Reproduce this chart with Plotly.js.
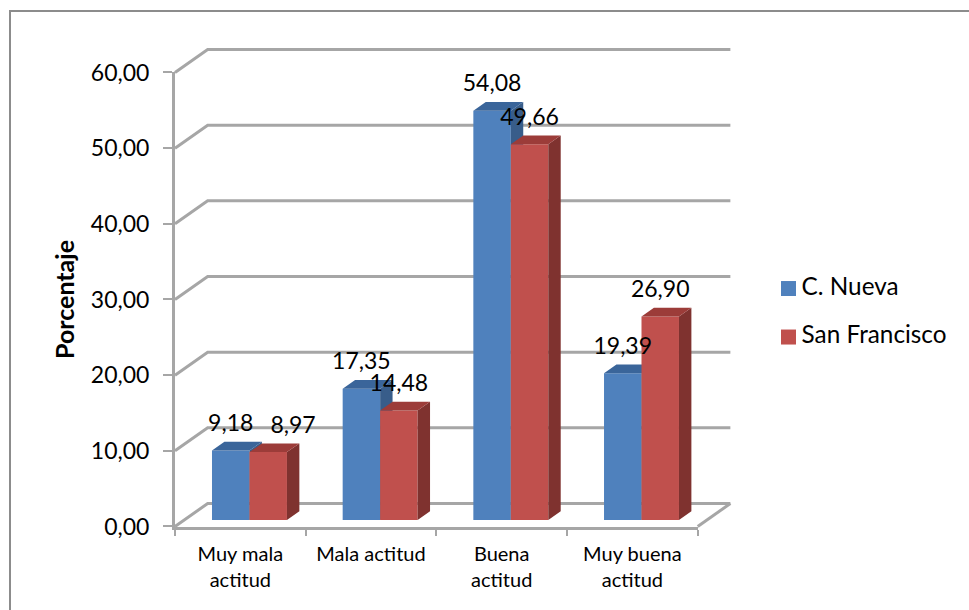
<!DOCTYPE html>
<html>
<head>
<meta charset="utf-8">
<script src="https://cdn.plot.ly/plotly-3.0.1.min.js"></script>
<style>html,body{margin:0;padding:0;background:#fff}#chart{width:969px;height:610px}</style>
</head>
<body>
<div id="chart"></div>
<script>
// Survey results: attitude level by locality, in percent
const categories = ["Muy mala<br>actitud", "Mala actitud", "Buena<br>actitud", "Muy buena<br>actitud"];
const seriesNames = ["C. Nueva", "San Francisco"];
const nuevaValues = [9.18, 17.35, 54.08, 19.39];
const franciscoValues = [8.97, 14.48, 49.66, 26.90];
const yTicks = [0, 10, 20, 30, 40, 50, 60];

// Pseudo-3D geometry, in axis units
const WALL_DX = 0.25, WALL_DY = 3.04;      // depth of the back wall
const BAR_DX = 0.095, BAR_DY = 1.15;       // depth of each column
const BAR_BASE = 0.86;                     // columns stand slightly behind the front edge
const BAR_W = 0.2868;
const BAR_X = [0.4265, 0.7133];            // column centres inside a category

const frontColors = ["#4F81BD", "#C0504D"];
const topColors = ["#3A659A", "#9C3C39"];
const sideColors = ["#385D8A", "#7F322F"];
const GRID = "#A6A6A6";
const FRAME = "#8C8C8C";
const FONT = "Lato, 'Open Sans', sans-serif";

// Frame of the drawing area, in pixels, and the pixel scale of both axes
const W = 969, H = 610;
const M = {l: 165, r: 15, t: 40, b: 75};
const AREA_W = W - M.l - M.r, AREA_H = H - M.t - M.b;
const X0 = 175, X_UNIT = 130.675, Y0 = 526.5, Y_UNIT = 7.5667;
const overX = [(M.l - X0) / X_UNIT, (W - M.r - X0) / X_UNIT];
const overY = [(Y0 - (H - M.b)) / Y_UNIT, (Y0 - M.t) / Y_UNIT];

const idx = categories.map((_, i) => i);

// Back wall, floor and the diagonals joining them to the value axis
const gridX = [], gridY = [];
yTicks.forEach(t => {
  gridX.push(0, WALL_DX, 4 + WALL_DX, null);
  gridY.push(t, t + WALL_DY, t + WALL_DY, null);
});
gridX.push(4, 4 + WALL_DX, null);
gridY.push(0, WALL_DY, null);

function facePolys(values, s, kind) {
  const xs = [], ys = [];
  values.forEach((v, i) => {
    const l = i + BAR_X[s] - BAR_W / 2, r = i + BAR_X[s] + BAR_W / 2, top = BAR_BASE + v;
    if (kind === "side") {
      xs.push(r, r + BAR_DX, r + BAR_DX, r, r, null);
      ys.push(BAR_BASE, BAR_BASE + BAR_DY, top + BAR_DY, top, BAR_BASE, null);
    } else {
      xs.push(l, r, r + BAR_DX, l + BAR_DX, l, null);
      ys.push(top, top, top + BAR_DY, top + BAR_DY, top, null);
    }
  });
  return {xs, ys};
}

function seriesTraces(values, s, xa, ya) {
  const side = facePolys(values, s, "side");
  const top = facePolys(values, s, "top");
  const poly = (p, color) => ({
    type: "scatter", mode: "lines", x: p.xs, y: p.ys, xaxis: xa, yaxis: ya,
    fill: "toself", fillcolor: color, line: {width: 0, color: color},
    hoverinfo: "skip", showlegend: false
  });
  return [
    {type: "bar", name: seriesNames[s], x: idx.map(i => i + BAR_X[s]), y: values,
     base: BAR_BASE, width: BAR_W, xaxis: xa, yaxis: ya,
     marker: {color: frontColors[s], line: {width: 0}}, showlegend: false},
    poly(side, sideColors[s]),
    poly(top, topColors[s])
  ];
}

const fmt = v => v.toFixed(2).replace(".", ",");

// Value labels sit above the front of each column; a few were nudged by hand
const LABEL_LIFT = 3.35;
const nudgeNueva = [0, 0, 0, 0];
const nudgeFrancisco = [0.19, 0, 0, 0];
function labelTrace(values, s, nudge) {
  return {
    type: "scatter", mode: "text", xaxis: "x4", yaxis: "y4",
    x: idx.map(i => i + BAR_X[s] + nudge[i]),
    y: values.map(v => BAR_BASE + v + LABEL_LIFT),
    text: values.map(fmt), textposition: "middle center",
    textfont: {family: FONT, size: 23, color: "#000"},
    hoverinfo: "skip", showlegend: false
  };
}

// Key to the two series, placed right of the chart
const legendMarkX = [4.695, 4.695], legendTextX = [4.795, 4.795], legendY = [31.45, 25.04];

const traces = [
  // Empty trace so the visible axes get their own subplot
  {type: "scatter", mode: "lines", x: [0], y: [0], hoverinfo: "skip", showlegend: false},
  {type: "scatter", mode: "lines", x: gridX, y: gridY, xaxis: "x2", yaxis: "y2",
   line: {color: GRID, width: 3}, hoverinfo: "skip", showlegend: false},
  ...seriesTraces(nuevaValues, 0, "x3", "y3"),
  ...seriesTraces(franciscoValues, 1, "x4", "y4"),
  labelTrace(nuevaValues, 0, nudgeNueva),
  labelTrace(franciscoValues, 1, nudgeFrancisco),
  {type: "scatter", mode: "markers", xaxis: "x4", yaxis: "y4",
   x: legendMarkX, y: legendY,
   marker: {symbol: "square", size: 15, color: frontColors, line: {width: 0}},
   hoverinfo: "skip", showlegend: false},
  {type: "scatter", mode: "text", xaxis: "x4", yaxis: "y4",
   x: legendTextX, y: legendY, text: seriesNames, textposition: "middle right",
   textfont: {family: FONT, size: 24.3, color: "#000"},
   hoverinfo: "skip", showlegend: false}
];

const hiddenX = (anchor, over) => ({range: overX, anchor, visible: false, fixedrange: true, ...(over ? {overlaying: over} : {})});
const hiddenY = (anchor, over) => ({range: overY, anchor, visible: false, fixedrange: true, ...(over ? {overlaying: over} : {})});

// Paper coordinates for the frame lines
const paperX = px => (px - M.l) / AREA_W;
const paperY = py => 1 - (py - M.t) / AREA_H;

const layout = {
  width: W, height: H,
  margin: {l: M.l, r: M.r, t: M.t, b: M.b, pad: 0},
  paper_bgcolor: "#fff", plot_bgcolor: "rgba(0,0,0,0)",
  separators: ",.",
  showlegend: false,
  barmode: "overlay",
  xaxis: {
    domain: [paperX(X0), paperX(X0 + 4 * X_UNIT)], anchor: "y",
    range: [0, 4], tickmode: "array",
    tickvals: idx.map(i => i + 0.5), ticktext: categories,
    ticks: "", showgrid: false, zeroline: false,
    showline: true, linecolor: GRID, linewidth: 3,
    minor: {tickmode: "array", tickvals: [0, 1, 2, 3, 4], ticks: "outside", ticklen: 6, tickwidth: 2, tickcolor: GRID, showgrid: false},
    tickfont: {family: FONT, size: 20, color: "#000"},
    ticklabelstandoff: 7, fixedrange: true
  },
  yaxis: {
    domain: [paperY(Y0), paperY(Y0 - 60 * Y_UNIT)], anchor: "x",
    range: [0, 60], tickmode: "array", tickvals: yTicks, tickformat: ".2f",
    ticks: "outside", ticklen: 9, tickwidth: 2, tickcolor: GRID,
    showgrid: false, zeroline: false,
    showline: true, linecolor: GRID, linewidth: 3,
    tickfont: {family: FONT, size: 23, color: "#000"},
    ticklabelstandoff: 9, fixedrange: true,
    title: {text: "<b>Porcentaje</b>", font: {family: FONT, size: 25, color: "#000"}, standoff: 10}
  },
  xaxis2: hiddenX("y2"),
  yaxis2: hiddenY("x2"),
  xaxis3: hiddenX("y3", "x2"),
  yaxis3: hiddenY("x3", "y2"),
  xaxis4: hiddenX("y4", "x2"),
  yaxis4: hiddenY("x4", "y2"),
  shapes: [
    {type: "line", xref: "paper", yref: "paper", layer: "below",
     x0: paperX(10), x1: paperX(10), y0: paperY(10), y1: paperY(H), line: {color: FRAME, width: 2}},
    {type: "line", xref: "paper", yref: "paper", layer: "below",
     x0: paperX(10), x1: paperX(W), y0: paperY(11), y1: paperY(11), line: {color: FRAME, width: 2}}
  ]
};

Plotly.newPlot("chart", traces, layout, {displayModeBar: false, staticPlot: true});
</script>
</body>
</html>
